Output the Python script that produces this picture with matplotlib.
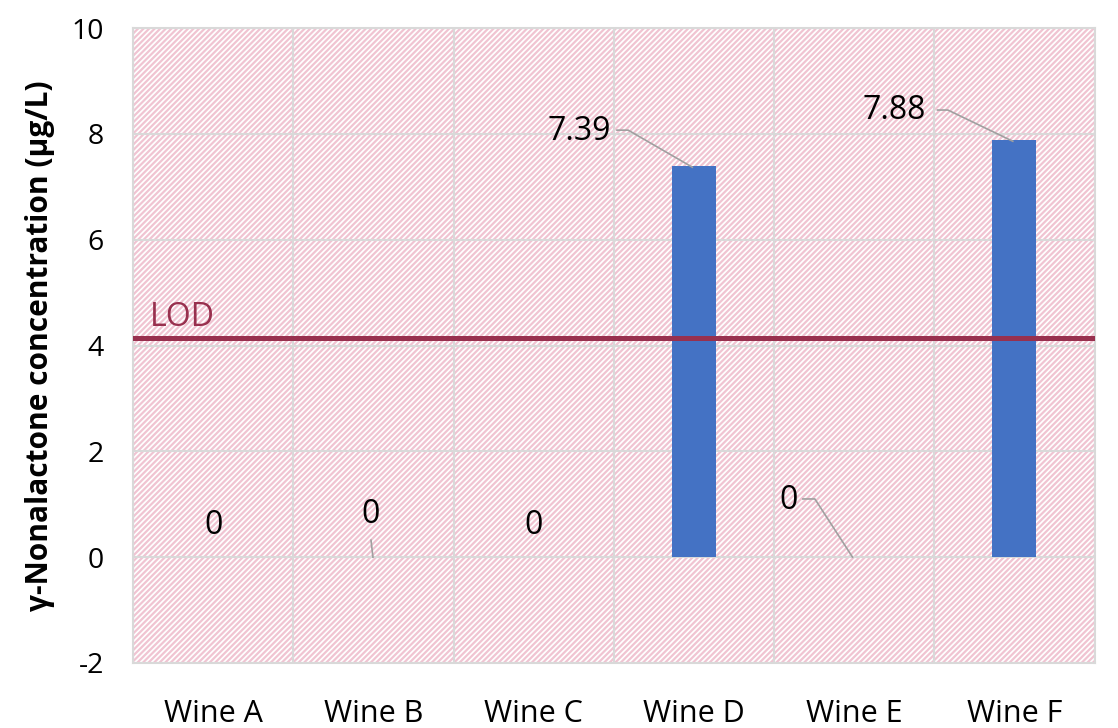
import numpy as np
import matplotlib
matplotlib.use("Agg")
import matplotlib.pyplot as plt
from matplotlib.patches import Rectangle

plt.rcParams['font.family'] = ['Open Sans', 'DejaVu Sans']
plt.rcParams['axes.unicode_minus'] = False
plt.rcParams['hatch.linewidth'] = 1.6
plt.rcParams['hatch.color'] = '#F0C4D2'

wines = ["Wine A", "Wine B", "Wine C", "Wine D", "Wine E", "Wine F"]
conc = [0, 0, 0, 7.39, 0, 7.88]
lod = 4.15
yticks = [-2, 0, 2, 4, 6, 8, 10]

# label positions (data coords) and leader lines
label_pos = [(0.0, 0.6, 'center'), (0.985, 0.8, 'center'), (2.0, 0.6, 'center'),
             (2.48, 8.05, 'right'), (3.59, 1.08, 'center'), (4.45, 8.45, 'right')]
leaders = {1: ([0.985, 0.997], [0.32, 0.0]),
           3: ([2.52, 2.59, 2.99], [8.07, 8.07, 7.37]),
           4: ([3.68, 3.755, 3.99], [1.10, 1.10, 0.0]),
           5: ([4.52, 4.585, 4.99], [8.45, 8.45, 7.86])}

fig = plt.figure(figsize=(11.18, 7.28), dpi=100)
ax = fig.add_axes([0.119, 0.0893, 0.86, 0.8722])

x = np.arange(len(wines))
ax.set_xlim(-0.5, 5.5)
ax.set_ylim(-2, 10)

# hatched background
ax.add_patch(Rectangle((0, 0), 1, 1, transform=ax.transAxes, facecolor='white',
                       edgecolor='#F0C4D2', hatch='//////', linewidth=0, zorder=0))

ax.bar(x, conc, width=0.275, color='#4472C4', zorder=3)
ax.axhline(lod, color='#98304E', linewidth=3.6, zorder=4)
ax.text(-0.395, lod + 0.06, "LOD", color='#98304E', fontsize=23, va='bottom', ha='left', zorder=5)

for i, (lx, ly, ha) in enumerate(label_pos):
    ax.text(lx, ly, f"{conc[i]:g}", ha=ha, va='center', fontsize=23, color='black', zorder=6)
for i, (xs, ys) in leaders.items():
    ax.plot(xs, ys, color='#A0A0A0', linewidth=1.2, zorder=5)

ax.set_yticks(yticks)
ax.set_xticks(x)
ax.set_xticklabels(wines)
ax.set_xticks(np.arange(-0.5, 6, 1), minor=True)
ax.grid(True, which='major', axis='y', color='#D9D9D9', linewidth=1.5, zorder=1)
ax.grid(True, which='minor', axis='x', color='#D9D9D9', linewidth=1.5, zorder=1)
ax.set_axisbelow(True)
ax.tick_params(axis='both', which='both', length=0)
ax.tick_params(axis='x', labelsize=22, pad=26)
ax.tick_params(axis='y', labelsize=20.5, pad=21)
for s in ax.spines.values():
    s.set_color('#D9D9D9')
    s.set_linewidth(1.5)

ax.set_ylabel("γ-Nonalactone concentration (µg/L)", fontsize=21.5, fontweight='bold', labelpad=12)

fig.savefig("out.png", dpi=100)
